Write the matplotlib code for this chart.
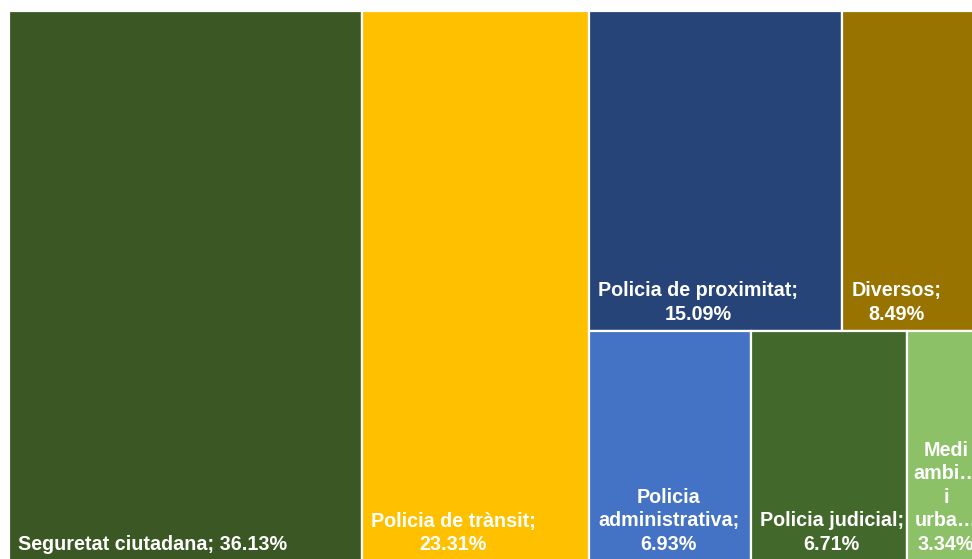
import matplotlib.pyplot as plt
from matplotlib.patches import Rectangle

# --- Datos ---
categories = ['Seguretat ciutadana', 'Policia de trànsit', 'Policia de proximitat',
              'Diversos', 'Policia administrativa', 'Policia judicial',
              'Medi ambient i urbanisme']
values = [36.13, 23.31, 15.09, 8.49, 6.93, 6.71, 3.34]
labels = ['Seguretat ciutadana; 36.13%',
          'Policia de trànsit;\n23.31%',
          'Policia de proximitat;\n15.09%',
          'Diversos;\n8.49%',
          'Policia\nadministrativa;\n6.93%',
          'Policia judicial;\n6.71%',
          'Medi\nambi…\ni\nurba…\n3.34%']
colors = ['#3A5724', '#FFC000', '#264478', '#997300', '#4472C4', '#43682B', '#8CC168']

# columnas -> filas -> indices (disposicion tipo Excel)
columns = [[[0]], [[1]], [[2, 3], [4, 5, 6]]]

W, H = 976, 550  # area del treemap (unidades = px)

fig = plt.figure(figsize=(9.72, 5.59), dpi=100)
ax = fig.add_axes([0, 0, 1, 1])
ax.set_xlim(-9, 963)
ax.set_ylim(548, -11)
ax.axis('off')

total = sum(values)
x = 0
for col in columns:
    col_sum = sum(values[i] for r in col for i in r)
    cw = W * col_sum / total
    y = 0
    for row in col:
        row_sum = sum(values[i] for i in row)
        rh = H * row_sum / col_sum
        xx = x
        for i in row:
            w = cw * values[i] / row_sum
            ax.add_patch(Rectangle((xx, y), w, rh, facecolor=colors[i],
                                   edgecolor='white', linewidth=1.6))
            if w < 100:
                tx, ha = xx + w / 2, 'center'
            else:
                tx, ha = xx + 9, 'left'
            ax.text(tx, y + rh - 7, labels[i], ha=ha, va='bottom',
                    multialignment='center', color='white', fontsize=14.2,
                    fontweight='bold', family='Liberation Sans', linespacing=1.3)
            xx += w
        y += rh
    x += cw

fig.savefig('out.png', dpi=100)
